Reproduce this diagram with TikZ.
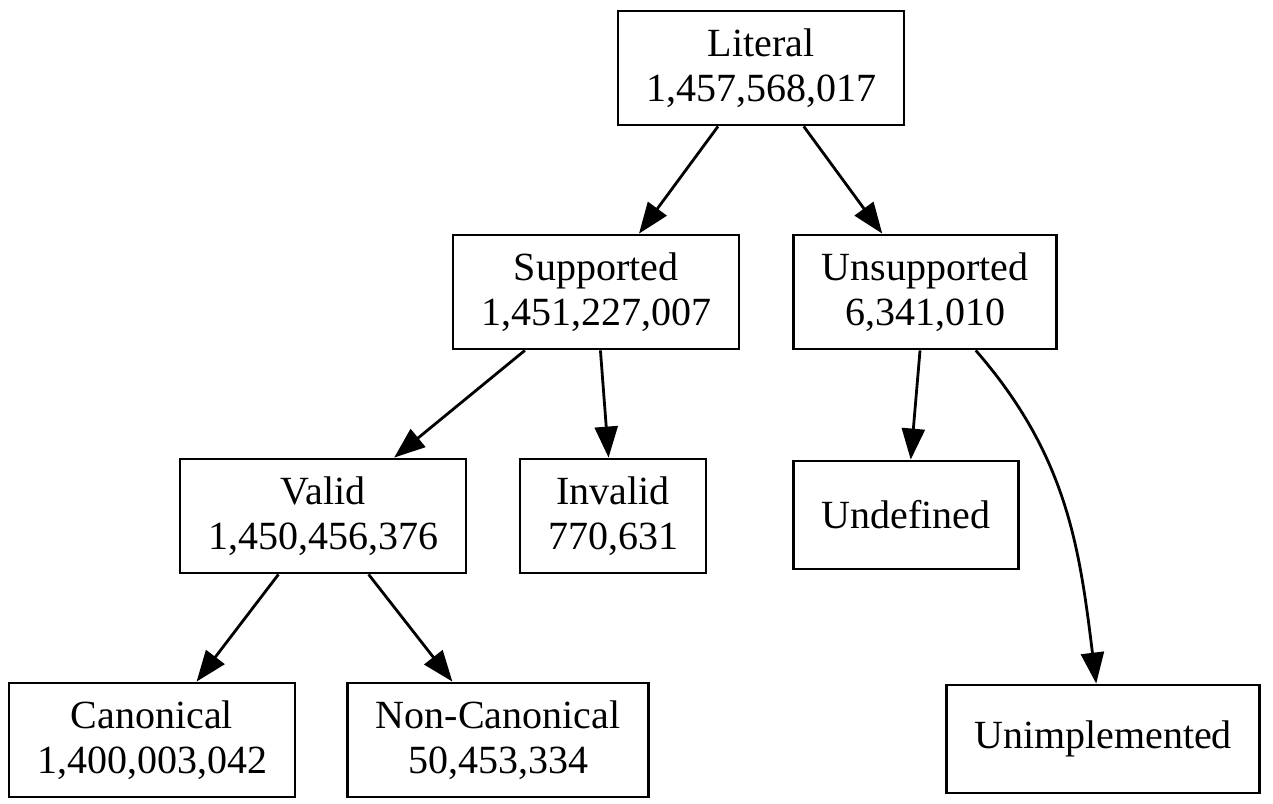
\documentclass[tikz,border=0pt]{standalone}
\usepackage{fontspec}
\setmainfont{Liberation Serif}
\usetikzlibrary{arrows.meta}
\begin{document}
\begin{tikzpicture}[x=0.5pt,y=-0.5pt]
		\tikzstyle{fleche}=[-{Triangle[length=15.5pt,width=11.5pt]},line width=1.4pt]
		\tikzstyle{boite}=[draw,line width=1.4pt,align=center,inner xsep=14pt,inner ysep=0pt,minimum height=57pt,font=\fontsize{20pt}{22.5pt}\selectfont]
		\tikzstyle{feuille}=[boite,minimum height=54pt]
		
		\def\NiveauA{68}
		\def\NiveauB{292}
		\def\NiveauC{516}
		\def\NiveauD{740}
		
		\useasboundingbox (0,0) rectangle (1273,803);
		
		\node[boite] (L) at (761,\NiveauA) {Literal\\1,457,568,017};
		\node[boite] (Ls) at (596,\NiveauB) {Supported\\1,451,227,007};
		\node[boite] (Lu) at (925,\NiveauB) {Unsupported\\6,341,010};
		\node[boite] (Lsv) at (323,\NiveauC) {Valid\\1,450,456,376};
		\node[boite] (Lsi) at (613,\NiveauC) {Invalid\\770,631};
		\node[feuille] (Lud) at (906,515) {Undefined};
		\node[boite] (Lsvc) at (152,\NiveauD) {Canonical\\1,400,003,042};
		\node[boite] (Lsvn) at (498,\NiveauD) {Non-Canonical\\50,453,334};
		\node[feuille] (Lui) at (1103,739) {Unimplemented};
		
		\draw[fleche] (L)--(Ls);
		\draw[fleche] (L)--(Lu);
		\draw[fleche] (Ls)--(Lsv);
		\draw[fleche] (Ls)--(Lsi);
		\draw[fleche] (Lu)--(Lud);
		\draw[fleche] (Lu) to[out=-49,in=97] (Lui);
		\draw[fleche] (Lsv)--(Lsvc);
		\draw[fleche] (Lsv)--(Lsvn);
\end{tikzpicture}
\end{document}
